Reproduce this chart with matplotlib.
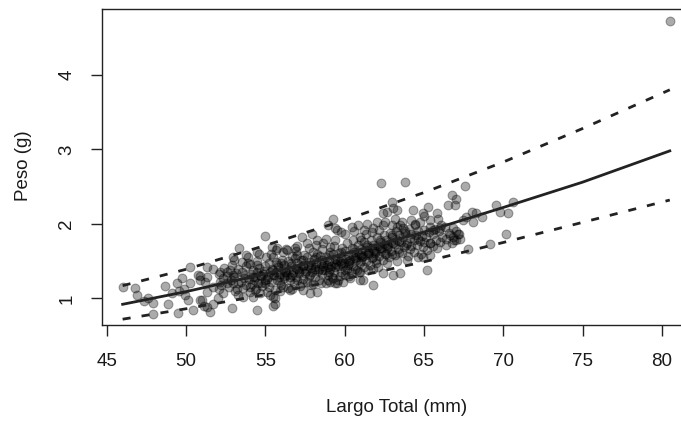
import matplotlib
matplotlib.use("Agg")
import matplotlib.pyplot as plt
import numpy as np

plt.rcParams['font.family'] = ['Liberation Sans', 'DejaVu Sans']

# Sparse points (Largo Total mm, Peso g)
left_pts = [(46.05,1.155),(46.75,1.14),(46.89,1.05),(47.6,1.0),(47.94,0.94),(47.94,0.79),(47.35,0.96),
            (48.65,1.16),(48.84,0.92),(49.1,1.07),(49.41,1.21),(49.73,1.27),(49.58,1.10),(49.5,0.80),
            (49.93,1.04),(50.25,1.42),(50.25,1.20),(50.1,0.98),(50.77,1.31),(50.88,1.25),(50.46,0.84),
            (50.88,0.98),(51.1,0.90),(51.3,1.28),(49.9,1.13)]
mid_left_pts = [(54.98,1.835),(53.36,1.67),(54.45,1.62),(55.4,1.69),(55.7,1.65),(52.98,1.56),(53.5,1.49),
                (53.9,1.47),(51.3,1.42),(51.7,1.40),(52.14,1.36),(52.56,1.36),(50.9,1.30),(51.2,1.22),
                (52.98,1.31),(51.7,1.155),(52.1,1.13),(51.3,1.09),(52.98,1.20),(53.2,1.13),(54.03,1.155),
                (54.34,1.11),(54.66,1.07),(55.3,1.04),(55.6,1.0),(50.99,0.98),(51.3,0.89),(51.7,0.93),
                (51.5,0.82),(52.88,0.87),(54.5,0.85),(55.46,0.90),(52.03,1.0),(52.35,1.07),(53.6,1.02)]
mid_pts = [(59.24,2.07),(58.96,1.98),(59.39,1.94),(57.29,1.83),(57.92,1.87),(58.23,1.78),(58.65,1.74),
           (59.07,1.69),(55.71,1.67),(56.34,1.65),(56.87,1.67),(55.5,1.02),(55.6,0.93),(57.4,1.11),
           (57.8,1.07),(58.23,1.09),(56.13,1.155),(56.55,1.11),(58.95,1.245),(59.39,1.2),
           (62.26,2.55),(62.96,2.29),(63.06,2.21),(62.64,2.16),(62.43,2.14),(62.01,2.03),(62.54,2.03),
           (61.38,2.0),(60.85,1.98),(60.44,1.96),(59.49,1.92),(59.8,1.89),(63.17,2.07),(63.27,1.96),
           (60.65,1.40),(60.96,1.36),(61.17,1.245),(61.8,1.40),(62.43,1.335),(63.06,1.31),(61.8,1.18),
           (59.49,1.2),(59.9,1.22),(59.28,1.27),(60.33,1.27),(60.96,1.245)]
right_pts = [(63.8,2.56),(66.74,2.385),(66.5,2.25),(66.95,2.25),(67.05,2.34),(65.27,2.23),(64.32,2.18),
             (64.95,2.14),(65.8,2.14),(65.9,2.07),(65.37,2.05),(64.74,2.03),(64.43,2.0),(63.27,2.18),
             (63.48,1.98),(66.63,1.85),(67.15,1.87),(67.05,1.78),(65.58,1.915),(66.0,1.94),(65.37,1.74),
             (65.8,1.67),(65.37,1.58),(64.95,1.56),(65.16,1.38),(63.48,1.335),(66.42,1.71),(66.74,1.74),
             (67.58,2.505),(69.57,2.25),(70.62,2.29),(69.78,2.16),(70.3,2.14),(68.0,2.16),(68.31,2.14),
             (67.68,2.09),(68.63,2.09),(68.1,2.03),(67.47,2.05),(66.8,1.95),(67.0,1.90),(66.85,1.83),
             (67.2,1.86),(67.3,1.80),(66.9,1.79),(70.16,1.86),(69.15,1.73),(67.78,1.66),(80.5,4.72)]
core_pts = [
(52.2,1.18),(52.35,1.27),(52.05,1.33),(52.4,1.41),(52.15,1.22),
(52.7,1.15),(52.85,1.25),(52.6,1.30),(52.75,1.38),(52.9,1.45),(52.55,1.21),
(53.1,1.10),(53.25,1.20),(53.0,1.28),(53.15,1.34),(53.3,1.40),(53.05,1.52),
(53.6,1.14),(53.45,1.22),(53.7,1.31),(53.55,1.36),(53.8,1.43),(53.65,1.27),(53.75,1.58),
(54.0,1.08),(54.15,1.19),(53.95,1.26),(54.1,1.33),(54.2,1.38),(54.05,1.46),(54.25,1.29),
(54.4,1.12),(54.55,1.21),(54.35,1.28),(54.5,1.35),(54.6,1.41),(54.45,1.50),(54.3,1.24),(54.65,1.31),
(54.8,1.17),(54.95,1.25),(54.75,1.30),(54.9,1.37),(55.0,1.44),(54.85,1.33),(55.05,1.55),(54.7,1.21),
(55.2,1.15),(55.35,1.22),(55.15,1.29),(55.3,1.35),(55.4,1.39),(55.25,1.47),(55.45,1.32),(55.1,1.26),(55.35,1.60),
(55.6,1.11),(55.75,1.24),(55.55,1.31),(55.7,1.36),(55.8,1.42),(55.65,1.49),(55.85,1.28),(55.5,1.38),
(56.0,1.18),(56.15,1.27),(55.95,1.33),(56.1,1.40),(56.2,1.45),(56.05,1.52),(56.25,1.36),(55.9,1.22),(56.1,1.62),
(56.4,1.14),(56.55,1.25),(56.35,1.32),(56.5,1.38),(56.6,1.43),(56.45,1.50),(56.65,1.57),(56.3,1.35),(56.55,1.29),
(56.8,1.20),(56.95,1.28),(56.75,1.35),(56.9,1.41),(57.0,1.47),(56.85,1.54),(57.05,1.39),(56.7,1.31),(56.95,1.63),
(57.2,1.16),(57.35,1.26),(57.15,1.34),(57.3,1.40),(57.4,1.45),(57.25,1.51),(57.45,1.58),(57.1,1.37),(57.35,1.43),
(57.6,1.22),(57.75,1.30),(57.55,1.37),(57.7,1.44),(57.8,1.49),(57.65,1.56),(57.85,1.41),(57.5,1.34),(57.75,1.68),
(58.0,1.19),(58.15,1.29),(57.95,1.36),(58.1,1.42),(58.2,1.48),(58.05,1.53),(58.25,1.60),(57.9,1.45),(58.15,1.39),
(58.4,1.25),(58.55,1.33),(58.35,1.40),(58.5,1.46),(58.6,1.51),(58.45,1.57),(58.65,1.44),(58.3,1.37),(58.55,1.66),
(58.8,1.21),(58.95,1.31),(58.75,1.38),(58.9,1.45),(59.0,1.50),(58.85,1.55),(59.05,1.62),(58.7,1.47),(58.95,1.42),
(59.2,1.28),(59.35,1.35),(59.15,1.43),(59.3,1.48),(59.4,1.53),(59.25,1.59),(59.45,1.46),(59.1,1.40),(59.35,1.70),
(59.6,1.24),(59.75,1.36),(59.55,1.44),(59.7,1.50),(59.8,1.56),(59.65,1.61),(59.85,1.67),(59.5,1.52),(59.75,1.47),
(60.0,1.31),(60.15,1.40),(59.95,1.47),(60.1,1.53),(60.2,1.58),(60.05,1.64),(60.25,1.50),(59.9,1.44),(60.15,1.74),
(60.4,1.35),(60.55,1.44),(60.35,1.51),(60.5,1.57),(60.6,1.62),(60.45,1.68),(60.65,1.54),(60.3,1.48),(60.55,1.79),
(60.8,1.38),(60.95,1.47),(60.75,1.55),(60.9,1.60),(61.0,1.66),(60.85,1.72),(61.05,1.58),(60.7,1.52),(60.95,1.83),
(61.2,1.42),(61.35,1.50),(61.15,1.57),(61.3,1.63),(61.4,1.69),(61.25,1.75),(61.45,1.61),(61.1,1.55),(61.35,1.86),
(61.6,1.45),(61.75,1.54),(61.55,1.61),(61.7,1.67),(61.8,1.72),(61.65,1.78),(61.85,1.64),(61.5,1.58),(61.75,1.89),
(62.0,1.48),(62.15,1.57),(61.95,1.64),(62.1,1.70),(62.2,1.76),(62.05,1.82),(62.25,1.68),(61.9,1.61),(62.15,1.92),
(62.4,1.52),(62.55,1.60),(62.35,1.67),(62.5,1.73),(62.6,1.79),(62.45,1.85),(62.65,1.71),(62.3,1.64),
(62.8,1.55),(62.95,1.63),(62.75,1.70),(62.9,1.76),(63.0,1.82),(62.85,1.88),(63.05,1.74),(62.7,1.67),
(63.2,1.58),(63.35,1.66),(63.15,1.73),(63.3,1.79),(63.4,1.85),(63.25,1.91),(63.45,1.77),
(63.6,1.61),(63.75,1.69),(63.55,1.76),(63.7,1.82),(63.8,1.88),(63.65,1.95),(63.85,1.72),
(64.0,1.57),(64.15,1.66),(63.95,1.74),(64.1,1.81),(64.2,1.87),(64.05,1.93),
(64.4,1.62),(64.55,1.71),(64.35,1.78),(64.5,1.85),(64.6,1.90),(64.45,1.98),
(64.8,1.60),(64.95,1.69),(64.75,1.77),(64.9,1.84),(65.0,1.92),
(65.2,1.65),(65.35,1.74),(65.15,1.82),(65.3,1.89),(65.4,1.96),
(65.6,1.70),(65.75,1.79),(65.55,1.86),(65.7,1.93),
(66.0,1.75),(66.15,1.83),(65.95,1.90),(66.1,1.99),
(66.4,1.80),(66.55,1.88),(66.35,1.96),
]
core_extra_pts = [
(53.3,1.05),(53.9,1.55),(54.2,1.02),(54.6,1.60),(55.1,1.08),(55.5,1.56),(55.9,1.10),(56.3,1.66),
(56.7,1.12),(57.0,1.70),(57.3,1.20),(57.6,1.74),(57.9,1.18),(58.2,1.72),(58.5,1.20),(58.8,1.80),
(59.1,1.22),(59.4,1.78),(59.7,1.30),(60.0,1.86),(60.3,1.30),(60.6,1.90),(60.9,1.35),(61.2,1.92),
(61.5,1.38),(61.8,1.95),(62.1,1.42),(62.4,1.98),(62.7,1.48),(63.0,1.98),(63.3,1.50),(63.6,2.02),
(63.9,1.52),(64.2,2.05),(64.6,1.55),(65.0,2.10),
(55.8,1.45),(56.2,1.30),(56.6,1.48),(57.0,1.25),(57.4,1.52),(57.8,1.32),(58.2,1.55),(58.6,1.38),
(59.0,1.58),(59.4,1.42),(59.8,1.62),(60.2,1.45),(60.6,1.66),(61.0,1.50),(61.4,1.72),(61.8,1.55),
(62.2,1.78),(62.6,1.60),(63.0,1.85),(63.4,1.62),(63.8,1.90),(64.2,1.70),(64.6,1.80),(65.0,1.75),
(58.0,1.62),(59.0,1.35),(60.0,1.38),(61.0,1.78),(62.0,1.52),(63.0,1.60),(57.0,1.58),(56.0,1.48),
(55.0,1.20),(54.5,1.45),(53.8,1.18),
]

# Fitted curve and prediction bands read at nodes
curve_x = [46, 50, 55, 60, 65, 70, 75, 80.5]
fit_y   = [0.92, 1.09, 1.33, 1.60, 1.89, 2.22, 2.56, 2.98]
upper_y = [1.17, 1.39, 1.71, 2.05, 2.42, 2.83, 3.28, 3.80]
lower_y = [0.72, 0.86, 1.05, 1.26, 1.49, 1.75, 2.02, 2.32]

x_ticks = [45, 50, 55, 60, 65, 70, 75, 80]
y_ticks = [1, 2, 3, 4]

pts = np.array(left_pts + mid_left_pts + mid_pts + right_pts + core_pts + core_extra_pts)

W, H = 681, 421
fig = plt.figure(figsize=(W/100, H/100), dpi=100)
ax = fig.add_axes([101.7/W, 1-325/H, (692-101.7)/W, (325-9)/H])

ax.scatter(pts[:, 0], pts[:, 1], s=40, c='black', alpha=0.33,
           edgecolors='black', linewidths=0.8, zorder=2)
ax.plot(curve_x, fit_y, color='#222222', lw=2.0, zorder=3)
for yy in (upper_y, lower_y):
    ax.plot(curve_x, yy, color='#222222', lw=2.0, dashes=(2.9, 4.0), zorder=3)

ax.set_xlim(44.68, 81.9)
ax.set_ylim(0.642, 4.885)
ax.set_xticks(x_ticks)
ax.set_yticks(y_ticks)
ax.set_xticklabels([str(v) for v in x_ticks])
ax.set_yticklabels([str(v) for v in y_ticks])
for s in ax.spines.values():
    s.set_linewidth(1.0)
    s.set_color('#222222')
ax.tick_params(axis='both', direction='out', length=8, width=1.0, color='#222222',
               labelsize=13.5, labelcolor='#1a1a1a')
ax.tick_params(axis='x', pad=12)
ax.tick_params(axis='y', pad=11)
for lab in ax.get_yticklabels():
    lab.set_rotation(90)
    lab.set_va('center')

fig.text(397/W, 1-408/H, 'Largo Total (mm)', ha='center', va='center', fontsize=13.5, color='#1a1a1a')
fig.text(23/W, 1-166/H, 'Peso (g)', ha='center', va='center', rotation=90, fontsize=13.5, color='#1a1a1a')

fig.savefig('out.png', dpi=100)
